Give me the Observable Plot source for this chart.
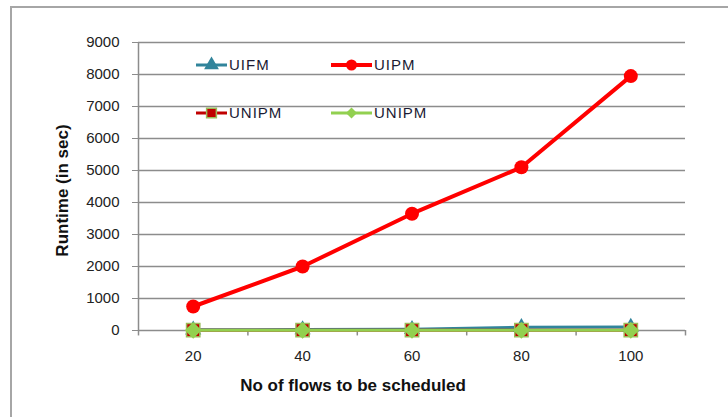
<!DOCTYPE html>
<html>
<head>
<meta charset="utf-8">
<script src="https://cdn.jsdelivr.net/npm/d3@7"></script>
<script src="https://cdn.jsdelivr.net/npm/@observablehq/plot@0.6"></script>
<style>
  html, body { margin: 0; padding: 0; background: #fff; }
  #wrap { position: relative; width: 728px; height: 417px; overflow: hidden; }
  #border { position: absolute; left: 10px; top: 6px; width: 800px; height: 500px;
            border-left: 2px solid #a6a6a6; border-top: 2px solid #a6a6a6; pointer-events: none; }
  #legend { position: absolute; left: 0; top: 0; pointer-events: none; }
  svg [aria-label="y-axis tick"] path { stroke: #8c8c8c; }
</style>
</head>
<body>
<div id="wrap"><div id="border"></div></div>
<script>
const flows = [20, 40, 60, 80, 100];
const uifm = [20, 30, 40, 100, 110];
const uipm = [750, 2000, 3650, 5100, 7950];
const unipmSquare = [10, 10, 10, 10, 10];
const unipmDiamond = [5, 5, 5, 5, 5];
const yTicks = [0, 1000, 2000, 3000, 4000, 5000, 6000, 7000, 8000, 9000];
const xBoundaries = [10, 30, 50, 70, 90, 110];
const xTitle = "No of flows to be scheduled";
const yTitle = "Runtime (in sec)";

const seriesDefs = [
  {name: "UIFM", values: uifm, color: "#31849b", width: 3, symbol: "triangle", fill: "#31849b", stroke: "none", r: 6, lr: 5.5},
  {name: "UIPM", values: uipm, color: "#ff0000", width: 4, symbol: "circle", fill: "#ff0000", stroke: "none", r: 7, lr: 5.5},
  {name: "UNIPM", values: unipmSquare, color: "#c00000", width: 3, symbol: "square", fill: "#c00000", stroke: "#9bbb59", r: 7.5, lr: 5.5},
  {name: "UNIPM", values: unipmDiamond, color: "#92d050", width: 3, symbol: "diamond2", fill: "#92d050", stroke: "none", r: 7.5, lr: 5}
];

const marks = [
  Plot.ruleY(yTicks, {stroke: "#8c8c8c", strokeWidth: 1.5}),
  Plot.ruleX([xBoundaries[0]], {y1: 0, y2: 9000, stroke: "#8c8c8c", strokeWidth: 1.5}),
  Plot.ruleX(xBoundaries, {y1: 0, y2: -170, stroke: "#8c8c8c", strokeWidth: 1.5})
];
for (const s of seriesDefs) {
  const data = flows.map((f, i) => ({x: f, y: s.values[i]}));
  marks.push(Plot.line(data, {x: "x", y: "y", stroke: s.color, strokeWidth: s.width}));
}
for (const s of seriesDefs) {
  const data = flows.map((f, i) => ({x: f, y: s.values[i]}));
  marks.push(Plot.dot(data, {x: "x", y: "y", symbol: () => s.symbol, r: s.r, fill: s.fill, stroke: s.stroke, strokeWidth: 1.5}));
}
marks.push(Plot.text([xTitle], {frameAnchor: "bottom", textAnchor: "middle", dx: -59, dy: 60, fontWeight: "bold", fontSize: 17, fill: "#111"}));
marks.push(Plot.text([yTitle], {frameAnchor: "left", textAnchor: "middle", rotate: -90, dx: -76, dy: 4, fontWeight: "bold", fontSize: 17, fill: "#111"}));

const chart = Plot.plot({
  width: 728, height: 417,
  marginLeft: 138, marginRight: 43, marginTop: 42, marginBottom: 87,
  style: {fontFamily: "'Liberation Sans', Arial, sans-serif", fontSize: "15px", color: "#222", background: "transparent"},
  x: {type: "linear", domain: [10, 110], ticks: flows, tickSize: 0, tickPadding: 20, tickFormat: d => String(d), label: null},
  y: {domain: [0, 9000], ticks: yTicks, tickSize: 6, tickPadding: 13, tickFormat: d => String(d), label: null},
  symbol: {type: "identity"},
  marks
});
document.getElementById("wrap").appendChild(chart);

// Legend overlay
const legendRows = [
  {s: seriesDefs[0], lx: 196, y: 65, w: 31}, {s: seriesDefs[1], lx: 331, y: 65, w: 41},
  {s: seriesDefs[2], lx: 196, y: 113, w: 31}, {s: seriesDefs[3], lx: 331, y: 113, w: 41}
];
const symbolTypes = {triangle: d3.symbolTriangle, circle: d3.symbolCircle, square: d3.symbolSquare, diamond2: d3.symbolDiamond2 || d3.symbolSquare};
const lg = d3.select("#wrap").append("svg").attr("id", "legend").attr("width", 728).attr("height", 417);
for (const row of legendRows) {
  const w = row.w;
  lg.append("line").attr("x1", row.lx).attr("x2", row.lx + w).attr("y1", row.y).attr("y2", row.y)
    .attr("stroke", row.s.color).attr("stroke-width", row.s.width);
  lg.append("path").attr("d", d3.symbol(symbolTypes[row.s.symbol], row.s.lr * row.s.lr * Math.PI)())
    .attr("transform", `translate(${row.lx + w / 2},${row.y})${symbolTypes[row.s.symbol] === d3.symbolSquare && row.s.symbol === "diamond2" ? " rotate(45)" : ""}`)
    .attr("fill", row.s.fill).attr("stroke", row.s.stroke).attr("stroke-width", 1.5);
  lg.append("text").attr("x", row.lx + w + 2).attr("y", row.y).attr("dy", "0.35em")
    .attr("font-family", "'Liberation Sans', Arial, sans-serif").attr("font-size", 15)
    .attr("letter-spacing", "1px").attr("fill", "#1a1a33").text(row.s.name);
}
</script>
</body>
</html>
